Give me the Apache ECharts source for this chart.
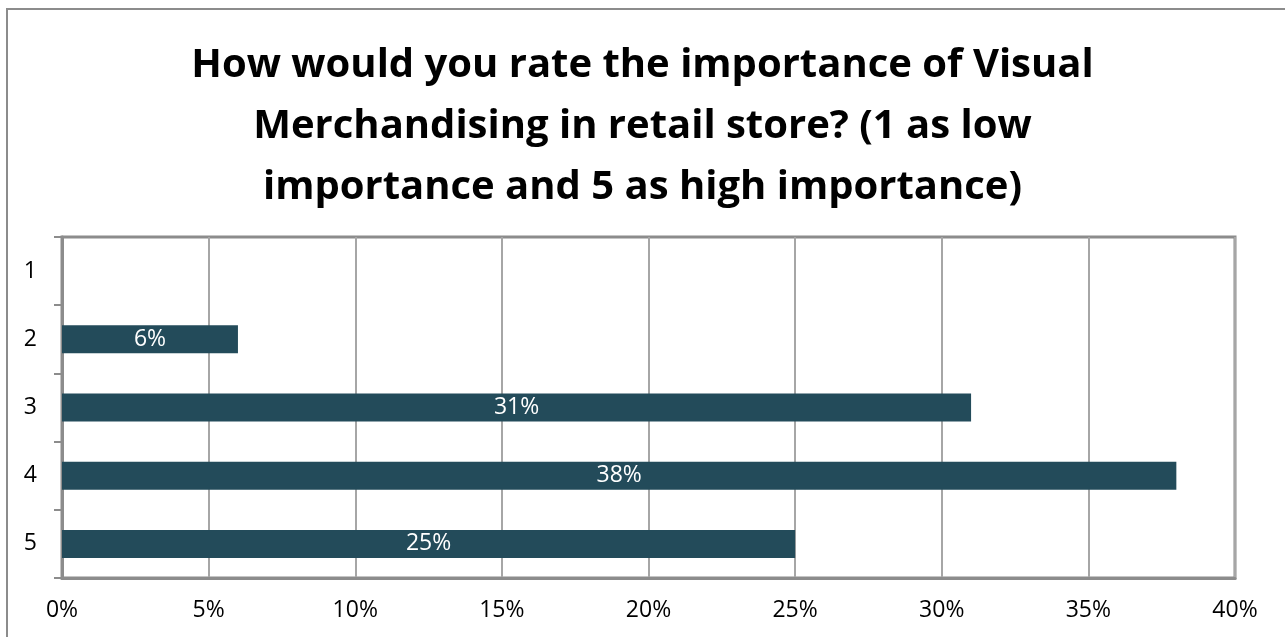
<!DOCTYPE html>
<html>
<head>
<meta charset="utf-8">
<style>
  html, body { margin: 0; padding: 0; background: #fff; }
  #chart { width: 1285px; height: 637px; }
</style>
<script src="https://cdn.jsdelivr.net/npm/echarts@6/dist/echarts.min.js"></script>
</head>
<body>
<div id="chart"></div>
<script>
// Rating levels (1 = low importance, 5 = high importance)
const categories = ['1', '2', '3', '4', '5'];
// Share of respondents per rating, in percent
const shares = [0, 6, 31, 38, 25];
// Value axis range and step, in percent
const axisMax = 40;
const axisStep = 5;

const chart = echarts.init(document.getElementById('chart'), null, { renderer: 'canvas' });

const gridColor = '#a6a6a6';
const frameColor = '#8c8c8c';
const fontFamily = '"Open Sans", Lato, sans-serif';

chart.setOption({
  backgroundColor: '#ffffff',
  animation: false,
  textStyle: { fontFamily: fontFamily },
  title: {
    text: 'How would you rate the importance of Visual\nMerchandising in retail store? (1 as low\nimportance and 5 as high importance)',
    left: 'center',
    top: 30,
    textStyle: {
      fontFamily: fontFamily,
      fontWeight: 'bold',
      fontSize: 40,
      lineHeight: 61,
      color: '#000000'
    }
  },
  graphic: [{
    type: 'rect',
    shape: { x: 7, y: 9, width: 1300, height: 660 },
    style: { fill: 'none', stroke: frameColor, lineWidth: 2 },
    silent: true,
    z: -1
  }],
  grid: {
    left: 62,
    top: 237,
    right: 50,
    bottom: 59,
    show: true,
    borderColor: frameColor,
    borderWidth: 3,
    containLabel: false
  },
  xAxis: {
    type: 'value',
    min: 0,
    max: axisMax,
    interval: axisStep,
    axisLine: { show: true, lineStyle: { color: frameColor, width: 3 } },
    axisTick: { show: false },
    splitLine: { show: true, lineStyle: { color: gridColor, width: 2 } },
    axisLabel: {
      formatter: '{value}%',
      fontFamily: fontFamily,
      fontSize: 23,
      color: '#000000',
      margin: 21
    }
  },
  yAxis: {
    type: 'category',
    data: categories,
    inverse: true,
    axisLine: { show: true, lineStyle: { color: frameColor, width: 3 } },
    axisTick: { show: true, length: 8, alignWithLabel: false, lineStyle: { color: frameColor, width: 2 } },
    axisLabel: { fontFamily: fontFamily, fontSize: 23, color: '#000000', margin: 25 },
    splitLine: { show: false }
  },
  series: [{
    type: 'bar',
    data: shares,
    barWidth: '41%',
    itemStyle: { color: '#234b5a' },
    label: {
      show: true,
      position: 'inside',
      color: '#ffffff',
      fontFamily: fontFamily,
      fontSize: 23,
      formatter: p => (p.value > 0 ? p.value + '%' : '')
    }
  }]
});
</script>
</body>
</html>
